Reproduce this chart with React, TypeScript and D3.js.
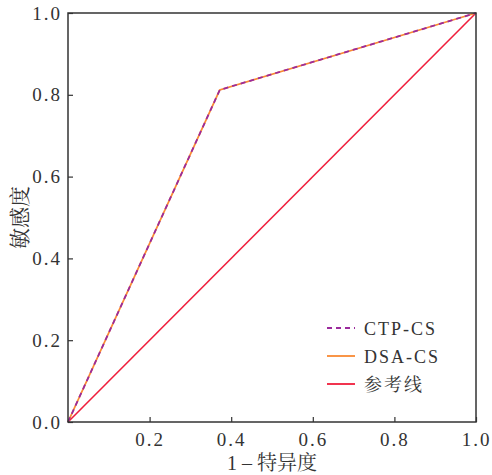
import * as d3 from "d3";
import { useEffect, useRef } from "react";

// ROC curve points (1 - specificity, sensitivity)
const ctpX = [0, 0.372, 1];
const ctpY = [0, 0.812, 1];
const dsaX = [0, 0.372, 1];
const dsaY = [0, 0.812, 1];
const refX = [0, 1];
const refY = [0, 1];
const xTicks = [0.2, 0.4, 0.6, 0.8, 1.0];
const yTicks = [0, 0.2, 0.4, 0.6, 0.8, 1.0];
const legendNames = ["CTP-CS", "DSA-CS", "参考线"];

const W = 492;
const H = 475;
const margin = { left: 68, right: 16, top: 13, bottom: 53 };
const font = "Liberation Serif, Noto Serif CJK SC, Noto Sans CJK SC, serif";

function App() {
  const ref = useRef<SVGSVGElement>(null);

  useEffect(() => {
    const svg = d3.select(ref.current);
    svg.selectAll("*").remove();

    const x = d3.scaleLinear().domain([0, 1]).range([margin.left, W - margin.right]);
    const y = d3.scaleLinear().domain([0, 1]).range([H - margin.bottom, margin.top]);

    const line = d3
      .line<[number, number]>()
      .x((d) => x(d[0]))
      .y((d) => y(d[1]));

    const g = svg.append("g");

    // reference line
    g.append("path")
      .attr("d", line(refX.map((v, i) => [v, refY[i]])))
      .attr("fill", "none")
      .attr("stroke", "#f01e3c")
      .attr("stroke-width", 1.6);

    g.append("path")
      .attr("d", line(dsaX.map((v, i) => [v, dsaY[i]])))
      .attr("fill", "none")
      .attr("stroke", "#f98a33")
      .attr("stroke-width", 1.8);

    g.append("path")
      .attr("d", line(ctpX.map((v, i) => [v, ctpY[i]])))
      .attr("fill", "none")
      .attr("stroke", "#9b2a9c")
      .attr("stroke-width", 1.8)
      .attr("stroke-dasharray", "5,4");

    // frame
    svg.append("rect")
      .attr("x", x(0))
      .attr("y", y(1))
      .attr("width", x(1) - x(0))
      .attr("height", y(0) - y(1))
      .attr("fill", "none")
      .attr("stroke", "#333")
      .attr("stroke-width", 1.5);

    const xAxis = svg.append("g")
      .attr("transform", `translate(0,${y(0)})`)
      .call(d3.axisBottom(x).tickValues(xTicks).tickSize(-5).tickPadding(11).tickFormat(d3.format(".1f")));
    const yAxis = svg.append("g")
      .attr("transform", `translate(${x(0)},0)`)
      .call(d3.axisLeft(y).tickValues(yTicks).tickSize(-5).tickPadding(6).tickFormat(d3.format(".1f")));

    [xAxis, yAxis].forEach((a) => {
      a.attr("font-family", font).attr("font-size", 19);
      a.select(".domain").remove();
      a.selectAll(".tick line").attr("stroke", "#333").attr("stroke-width", 1.2);
      a.selectAll(".tick text")
        .attr("fill", "#333")
        .attr("letter-spacing", 2);
    });

    svg.append("text")
      .attr("x", 272)
      .attr("y", 470)
      .attr("text-anchor", "middle")
      .attr("fill", "#333")
      .attr("font-family", font)
      .attr("font-size", 20)
      .text("1 – 特异度");

    svg.append("text")
      .attr("transform", `translate(27,${(y(0) + y(1)) / 2}) rotate(-90)`)
      .attr("text-anchor", "middle")
      .attr("fill", "#333")
      .attr("font-family", font)
      .attr("font-size", 21)
      .text("敏感度");

    // legend
    const legendColors = ["#9b2a9c", "#f98a33", "#f01e3c"];
    const legendDash = ["5,4", null, null];
    const lg = svg.append("g").attr("transform", "translate(327,328)");
    legendNames.forEach((name, i) => {
      const row = lg.append("g").attr("transform", `translate(0,${i * 28})`);
      row.append("line")
        .attr("x1", 0)
        .attr("x2", 28)
        .attr("y1", 0)
        .attr("y2", 0)
        .attr("stroke", legendColors[i])
        .attr("stroke-width", 1.8)
        .attr("stroke-dasharray", legendDash[i]);
      row.append("text")
        .attr("x", 37)
        .attr("y", 7)
        .attr("fill", "#333")
        .attr("font-family", font)
        .attr("font-size", 18)
        .attr("letter-spacing", 2)
        .text(name);
    });
  }, []);

  return (
    <div>
      <svg ref={ref} width={W} height={H} style={{ position: "absolute", left: 0, top: 0 }}></svg>
    </div>
  );
}

export default App;
